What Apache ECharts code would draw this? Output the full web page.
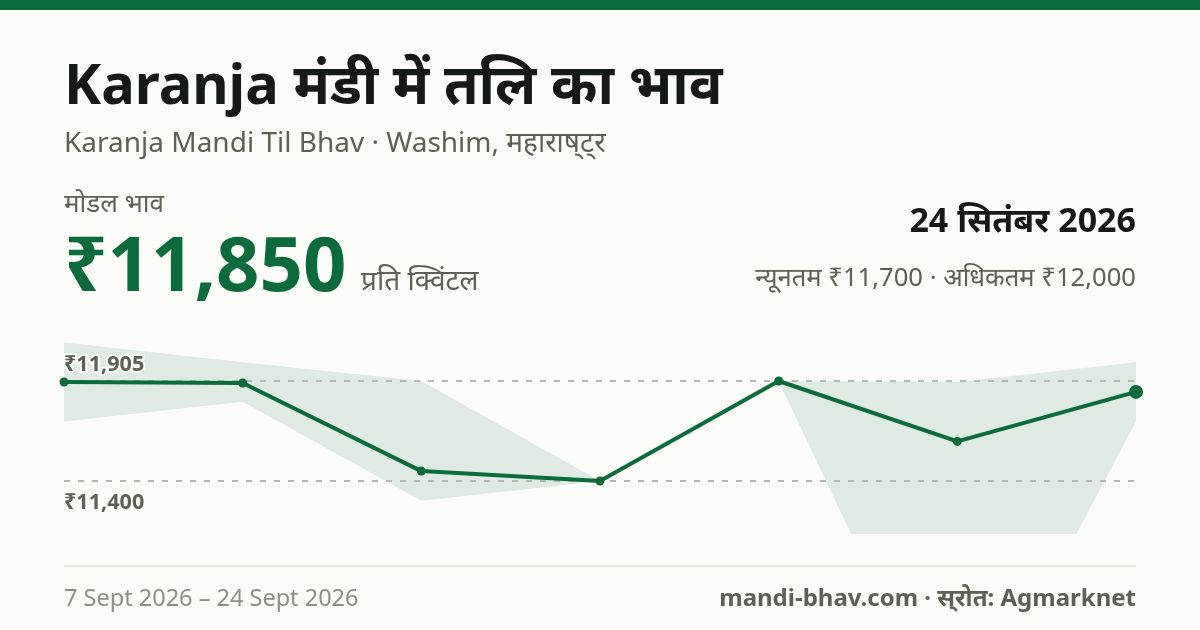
<!DOCTYPE html>
<html><head><meta charset="utf-8">
<style>html,body{margin:0;padding:0;background:#fbfcf8}#c{width:1200px;height:630px}</style>
<script src="https://cdn.jsdelivr.net/npm/echarts@6/dist/echarts.min.js"></script>
</head><body><div id="c"></div>
<script>
const categories = ['7 Sept','10 Sept','13 Sept','16 Sept','19 Sept','22 Sept','24 Sept'];
const modalPrice = [11900, 11895, 11450, 11400, 11905, 11600, 11850];
const maxPrice   = [12100, 12000, 11905, 11400, 11905, 11900, 12000];
const minPrice   = [11700, 11800, 11300, 11400, 11905, 10000, 11700];
const refLines = [11905, 11400];
const refLabels = ['₹11,905', '₹11,400'];
const GREEN='#0b6b3a', INK='#161a14', MID='#5c6156', PALE='#8b8f84', BG='#fbfcf8', BAND='#dfeae2';
const FF='"Noto Sans", sans-serif';
const txt=(x,base,text,size,weight,fill,align)=>({type:'text',x,y:base-0.8*size,silent:true,style:{text,x:0,y:0,font:`${weight} ${size}px ${FF}`,fill,textAlign:align||'left',textBaseline:'top'}});
const chart=echarts.init(document.getElementById('c'),null,{renderer:'canvas',width:1200,height:630});
chart.setOption({
  animation:false,backgroundColor:BG,
  grid:{left:64,right:64,top:340,bottom:96},
  xAxis:{type:'category',data:categories,boundaryGap:false,show:false},
  yAxis:{type:'value',min:11132.35,max:12112,show:false,splitLine:{show:false}},
  graphic:[
    {type:'rect',shape:{x:0,y:0,width:1200,height:10},style:{fill:GREEN},silent:true},
    txt(64,105,'Karanja मंडी में तलि का भाव',56,700,INK),
    txt(64,152,'Karanja Mandi Til Bhav · Washim, महाराष्\u200cट्\u200cर',28,400,MID),
    txt(64,212,'मोडल भाव',26,400,MID),
    txt(64,292,'₹11,850',76,700,GREEN),
    txt(361,290,'प्रति क्विंटल',28,400,MID),
    txt(1136,232.5,'24 सितंबर 2026',34,700,INK,'right'),
    txt(1136,286,'न्यूनतम ₹11,700 · अधिकतम ₹12,000',25.6,400,MID,'right'),
    {type:'rect',shape:{x:64,y:565,width:1072,height:2},style:{fill:'#e6e8df'},silent:true},
    txt(64,606,'7 Sept 2026 – 24 Sept 2026',23.5,400,PALE),
    txt(1136,606,'mandi-bhav.com · स्\u200cरोत: Agmarknet',24,700,MID,'right')
  ],
  series:[
    {type:'line',stack:'band',data:minPrice,symbol:'none',lineStyle:{opacity:0,width:0},areaStyle:{opacity:0},z:1,silent:true},
    {type:'line',stack:'band',data:maxPrice.map((v,i)=>v-minPrice[i]),symbol:'none',lineStyle:{opacity:0,width:0},areaStyle:{color:BAND,opacity:1},z:1,silent:true,
     markLine:{silent:true,symbol:'none',z:2,
       lineStyle:{color:'#b5b9b0',type:[6,8],width:2},
       data:refLines.map((v,i)=>({yAxis:v,label:{show:true,formatter:refLabels[i],position:i?'insideStartBottom':'insideStartTop',distance:[0,i?11:5],color:MID,fontFamily:FF,fontWeight:700,fontSize:21.6,textBorderColor:BG,textBorderWidth:4,align:'left'}}))}
    },
    {type:'line',data:modalPrice,z:3,color:GREEN,showSymbol:true,symbol:'circle',
     symbolSize:(v,p)=>p.dataIndex===modalPrice.length-1?14:9,
     lineStyle:{color:GREEN,width:4},itemStyle:{color:GREEN},clip:false}
  ]
});
</script></body></html>
